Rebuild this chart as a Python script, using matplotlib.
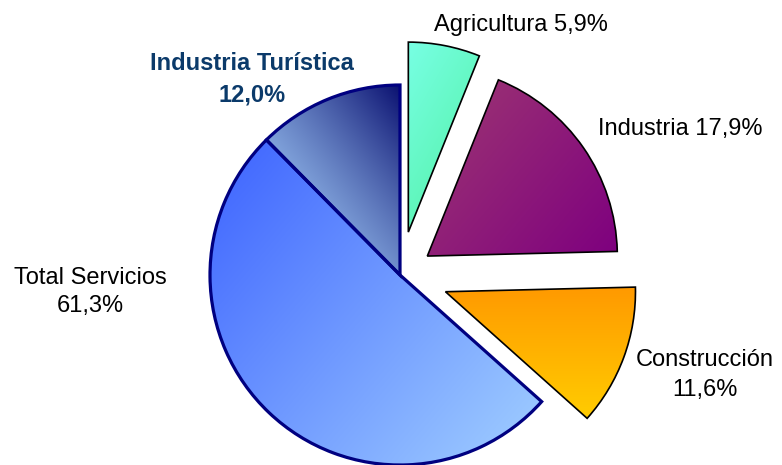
import numpy as np
import matplotlib
matplotlib.use("Agg")
import matplotlib.pyplot as plt
from matplotlib.colors import to_rgb

# Data (percent of total)
categories = ["Agricultura", "Industria", "Construcción", "Total Servicios", "Industria Turística"]
values = [5.9, 17.9, 11.6, 49.3, 12.0]   # Total Servicios 61,3% = 49,3% + 12,0% (Turística)
labels = ["Agricultura 5,9%", "Industria 17,9%", "Construcción\n11,6%", "Total Servicios\n61,3%",
          "Industria Turística\n12,0%"]
explode_frac = [0.23, 0.175, 0.255, 0.0, 0.0]

plt.rcParams['font.family'] = ['Liberation Sans', 'DejaVu Sans']

W, H = 782, 465
R = 190
fig = plt.figure(figsize=(W / 100, H / 100), dpi=100)
ax = fig.add_axes([0, 0, 1, 1])
ax.set_xlim(0, W)
ax.set_ylim(0, H)
ax.set_aspect('equal')
ax.axis('off')

wedges, _ = ax.pie(values, explode=[e * R for e in explode_frac], startangle=90,
                   counterclock=False, center=(400, H - 275), radius=R, frame=True)
ax.set_autoscale_on(False)
ax.set_xlim(0, W)
ax.set_ylim(0, H)
ax.axis('off')

grads = [
    ('#78FFE4', '#4FF0A0', -30, 1.0),
    ('#9E3872', '#7E007F', -40, 1.0),
    ('#FF9900', '#FFCC00', -90, 1.0),
    ('#3C62FF', '#A2D0FF', -40, 1.0),
    ('#A8D4FF', '#0A1070', 38, 1.4),
]
edges = [('black', 1.2), ('black', 1.2), ('black', 1.2), ('#000080', 2.3), ('#000080', 2.3)]


def grad_fill(wedge, c0, c1, ang, gamma):
    path = wedge.get_path()
    bb = path.get_extents()
    n = 300
    xs = np.linspace(bb.x0, bb.x1, n)
    ys = np.linspace(bb.y0, bb.y1, n)
    X, Y = np.meshgrid(xs, ys)
    dx, dy = np.cos(np.radians(ang)), np.sin(np.radians(ang))
    p = X * dx + Y * dy
    t = ((p - p.min()) / (p.max() - p.min())) ** gamma
    a = np.array(to_rgb(c0))
    b = np.array(to_rgb(c1))
    img = a[None, None, :] * (1 - t[..., None]) + b[None, None, :] * t[..., None]
    im = ax.imshow(img, extent=(bb.x0, bb.x1, bb.y0, bb.y1), origin='lower',
                   interpolation='bilinear', zorder=1, aspect='equal')
    im.set_clip_path(wedge)


for w, (c0, c1, ang, g), (ec, lw) in zip(wedges, grads, edges):
    w.set_facecolor('none')
    w.set_edgecolor(ec)
    w.set_linewidth(lw)
    w.set_zorder(3)
    w.set_clip_on(False)
    grad_fill(w, c0, c1, ang, g)

ax.set_xlim(0, W)
ax.set_ylim(0, H)

fs = 17
ls = 1.5
ax.text(521, H - 25, labels[0], ha='center', va='center', fontsize=fs)
ax.text(680, H - 129, labels[1], ha='center', va='center', fontsize=fs)
ax.text(705, H - 375, labels[2], ha='center', va='center', fontsize=fs, linespacing=ls)
ax.text(90, H - 292, labels[3], ha='center', va='center', fontsize=fs, linespacing=1.4)
ax.text(252, H - 79, labels[4], ha='center', va='center', fontsize=fs, fontweight='bold',
        color='#0B3A6A', linespacing=ls)

fig.savefig('out.png', dpi=100)
